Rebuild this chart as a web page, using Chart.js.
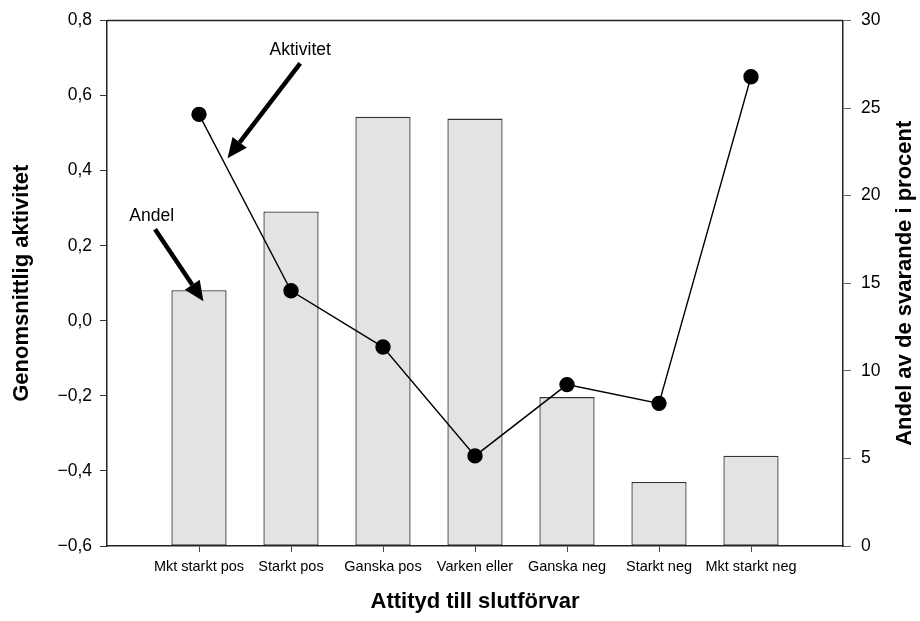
<!DOCTYPE html>
<html>
<head>
<meta charset="utf-8">
<script src="https://cdn.jsdelivr.net/npm/chart.js@4.4.1/dist/chart.umd.min.js"></script>
<style>
  body { margin: 0; background: #fff; }
  canvas { display: block; }
</style>
</head>
<body>
<canvas id="chart" width="920" height="621"></canvas>
<script>
// kategorier och värden
const categories = ['Mkt starkt pos', 'Starkt pos', 'Ganska pos', 'Varken eller', 'Ganska neg', 'Starkt neg', 'Mkt starkt neg'];
const andel = [14.6, 19.1, 24.5, 24.4, 8.5, 3.65, 5.15];          // procent, höger axel
const aktivitet = [0.55, 0.08, -0.07, -0.36, -0.17, -0.22, 0.65];  // vänster axel
const leftTicks = [-0.6, -0.4, -0.2, 0.0, 0.2, 0.4, 0.6, 0.8];
const rightTicks = [0, 5, 10, 15, 20, 25, 30];

// pilar med text, i dataenheter (x = kategoriposition, y = vänster axel)
const notes = [
  { text: 'Aktivitet', tx: 2.10, ty: 0.721, x0: 2.10, y0: 0.686, x1: 1.31, y1: 0.433 },
  { text: 'Andel', tx: 0.486, ty: 0.28, x0: 0.522, y0: 0.244, x1: 1.048, y1: 0.052 }
];

const FONT = "'Liberation Sans', Arial, sans-serif";
const RIGHT_TITLE = 'Andel av de svarande i procent';

function fmtLeft(v) {
  if (Math.abs(v) < 1e-9) return '0,0';
  return v.toFixed(1).replace('.', ',').replace('-', '\u2212');
}

const framePlugin = {
  id: 'frame',
  afterDraw(chart) {
    const { ctx, chartArea } = chart;
    ctx.save();
    ctx.strokeStyle = '#222';
    ctx.lineWidth = 1.5;
    ctx.beginPath();
    ctx.moveTo(chartArea.left, chartArea.top);
    ctx.lineTo(chartArea.right, chartArea.top);
    ctx.stroke();

    // höger axeltitel, läses nedifrån och upp som den vänstra
    ctx.translate(chart.width - 15, (chartArea.top + chartArea.bottom) / 2);
    ctx.rotate(-Math.PI / 2);
    ctx.fillStyle = '#000';
    ctx.font = 'bold 22px ' + FONT;
    ctx.textAlign = 'center';
    ctx.textBaseline = 'middle';
    ctx.fillText(RIGHT_TITLE, 0, 0);
    ctx.restore();
  }
};

const arrowPlugin = {
  id: 'arrows',
  afterDatasetsDraw(chart) {
    const { ctx } = chart;
    const xs = chart.scales.x, ys = chart.scales.y;
    ctx.save();
    notes.forEach(n => {
      ctx.fillStyle = '#000';
      ctx.font = '17.5px ' + FONT;
      ctx.textAlign = 'center';
      ctx.textBaseline = 'middle';
      ctx.fillText(n.text, xs.getPixelForValue(n.tx), ys.getPixelForValue(n.ty));

      const ax = xs.getPixelForValue(n.x0), ay = ys.getPixelForValue(n.y0);
      const bx = xs.getPixelForValue(n.x1), by = ys.getPixelForValue(n.y1);
      const ang = Math.atan2(by - ay, bx - ax);
      const headLen = 20, headW = 9;
      const hx = bx - headLen * Math.cos(ang), hy = by - headLen * Math.sin(ang);
      ctx.strokeStyle = '#000';
      ctx.lineWidth = 4.5;
      ctx.lineCap = 'butt';
      ctx.beginPath();
      ctx.moveTo(ax, ay);
      ctx.lineTo(hx, hy);
      ctx.stroke();
      ctx.beginPath();
      ctx.moveTo(bx, by);
      ctx.lineTo(hx + headW * Math.sin(ang), hy - headW * Math.cos(ang));
      ctx.lineTo(hx - headW * Math.sin(ang), hy + headW * Math.cos(ang));
      ctx.closePath();
      ctx.fill();
    });
    ctx.restore();
  }
};

new Chart(document.getElementById('chart'), {
  data: {
    datasets: [
      {
        type: 'line',
        label: 'Aktivitet',
        data: aktivitet.map((v, i) => ({ x: i + 1, y: v })),
        yAxisID: 'y',
        borderColor: '#000',
        borderWidth: 1.4,
        pointRadius: 7,
        pointBackgroundColor: '#000',
        pointBorderColor: '#000',
        tension: 0,
        order: 0
      },
      {
        type: 'bar',
        label: 'Andel',
        data: andel.map((v, i) => ({ x: i + 1, y: v })),
        yAxisID: 'y2',
        backgroundColor: '#e2e3e2',
        borderColor: '#333',
        borderWidth: 1.3,
        borderSkipped: false,
        barPercentage: 0.6,
        categoryPercentage: 1,
        order: 1
      }
    ]
  },
  options: {
    responsive: false,
    animation: false,
    layout: { padding: { top: 17, left: 0, right: 0, bottom: 0 } },
    plugins: { legend: { display: false }, tooltip: { enabled: false } },
    scales: {
      x: {
        type: 'linear',
        offset: false,
        min: 0,
        max: categories.length + 1,
        afterBuildTicks: axis => {
          axis.ticks = categories.map((c, i) => ({ value: i + 1 }));
        },
        afterFit: s => { s.height = 75; },
        border: { display: true, color: '#222', width: 1.5 },
        grid: { offset: false, drawOnChartArea: false, tickLength: 6, color: '#444', tickWidth: 1 },
        ticks: {
          autoSkip: false,
          maxRotation: 0,
          padding: 6,
          color: '#000',
          font: { family: FONT, size: 14.5 },
          callback: v => categories[v - 1] || ''
        },
        title: {
          display: true,
          text: 'Attityd till slutförvar',
          color: '#000',
          font: { family: FONT, size: 22, weight: 'bold' },
          padding: { top: 0, bottom: 6 }
        }
      },
      y: {
        position: 'left',
        min: leftTicks[0],
        max: leftTicks[leftTicks.length - 1],
        afterBuildTicks: axis => { axis.ticks = leftTicks.map(v => ({ value: v })); },
        afterFit: s => { s.width = 107; },
        border: { display: true, color: '#222', width: 1.5 },
        grid: { drawOnChartArea: false, tickLength: 7, color: '#333' },
        ticks: {
          padding: 8,
          color: '#000',
          font: { family: FONT, size: 17.5 },
          callback: v => fmtLeft(v)
        },
        title: {
          display: true,
          text: 'Genomsnittlig aktivitet',
          color: '#000',
          font: { family: FONT, size: 22, weight: 'bold' },
          padding: { top: 9, bottom: 0 }
        }
      },
      y2: {
        position: 'right',
        min: rightTicks[0],
        max: rightTicks[rightTicks.length - 1],
        afterBuildTicks: axis => { axis.ticks = rightTicks.map(v => ({ value: v })); },
        afterFit: s => { s.width = 77; },
        border: { display: true, color: '#222', width: 1.5 },
        grid: { drawOnChartArea: false, tickLength: 8, color: '#666' },
        ticks: {
          padding: 10,
          color: '#000',
          font: { family: FONT, size: 17.5 },
          callback: v => String(v)
        }
      }
    }
  },
  plugins: [framePlugin, arrowPlugin]
});
</script>
</body>
</html>
